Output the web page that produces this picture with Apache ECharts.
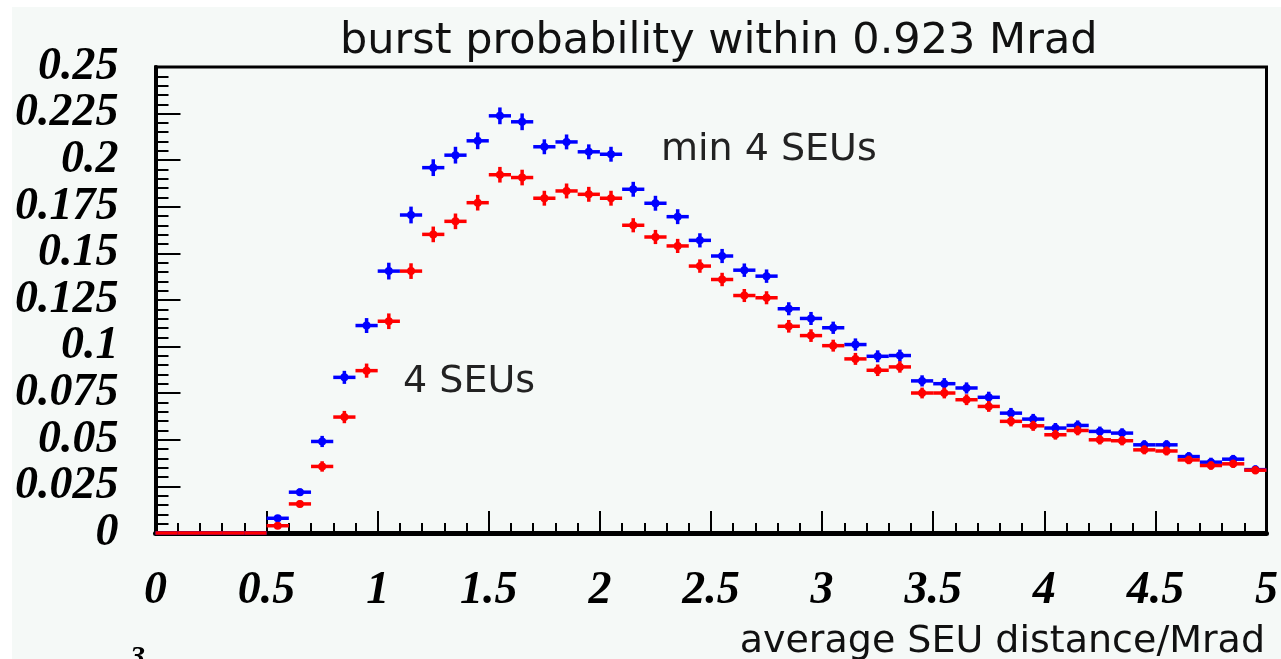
<!DOCTYPE html>
<html>
<head>
<meta charset="utf-8">
<script src="https://cdn.jsdelivr.net/npm/echarts@6/dist/echarts.min.js"></script>
<style>
html,body{margin:0;padding:0;background:#ffffff;}
#wrap{position:relative;width:1281px;height:659px;background:#ffffff;overflow:hidden;}
#chart{position:absolute;left:12px;top:7px;width:1269px;height:652px;}
</style>
</head>
<body>
<div id="wrap"><div id="chart"></div></div>
<script>
// ---- data ----
var binCenters = [0.05,0.15,0.25,0.35,0.45,0.55,0.65,0.75,0.85,0.95,
                  1.05,1.15,1.25,1.35,1.45,1.55,1.65,1.75,1.85,1.95,
                  2.05,2.15,2.25,2.35,2.45,2.55,2.65,2.75,2.85,2.95,
                  3.05,3.15,3.25,3.35,3.45,3.55,3.65,3.75,3.85,3.95,
                  4.05,4.15,4.25,4.35,4.45,4.55,4.65,4.75,4.85,4.95];
// "min 4 SEUs" (blue)
var minFourSEUs = [0,0,0,0,0,0.0079,0.0219,0.0491,0.0835,0.1113,
                   0.1405,0.1706,0.1960,0.2027,0.2104,0.2238,0.2206,0.2072,0.2098,0.2045,
                   0.2032,0.1844,0.1769,0.1697,0.1570,0.1486,0.1410,0.1378,0.1203,0.1151,
                   0.1101,0.1011,0.0948,0.0952,0.0816,0.0801,0.0778,0.0728,0.0643,0.0611,
                   0.0563,0.0577,0.0545,0.0536,0.0473,0.0473,0.0410,0.0380,0.0396,0.0340];
var minFourErr = [0,0,0,0,0,0.0012,0.0020,0.0030,0.0035,0.0040,
                  0.0045,0.0045,0.0045,0.0045,0.0045,0.0045,0.0045,0.0040,0.0040,0.0040,
                  0.0040,0.0040,0.0040,0.0040,0.0038,0.0038,0.0036,0.0036,0.0035,0.0035,
                  0.0033,0.0033,0.0032,0.0032,0.0030,0.0030,0.0030,0.0030,0.0028,0.0028,
                  0.0027,0.0027,0.0026,0.0026,0.0025,0.0025,0.0024,0.0024,0.0023,0.0023];
// "4 SEUs" (red)
var fourSEUs = [0,0,0,0,0,0.0039,0.0156,0.0357,0.0622,0.0871,
                0.1136,0.1405,0.1602,0.1672,0.1772,0.1922,0.1907,0.1796,0.1835,0.1817,
                0.1796,0.1651,0.1588,0.1540,0.1432,0.1360,0.1274,0.1262,0.1109,0.1059,
                0.1005,0.0934,0.0873,0.0891,0.0751,0.0751,0.0715,0.0679,0.0599,0.0575,
                0.0527,0.0550,0.0500,0.0495,0.0446,0.0440,0.0392,0.0362,0.0371,0.0337];
var fourErr = [0,0,0,0,0,0.0010,0.0018,0.0028,0.0033,0.0038,
               0.0042,0.0042,0.0042,0.0042,0.0042,0.0042,0.0042,0.0040,0.0040,0.0040,
               0.0040,0.0038,0.0038,0.0038,0.0036,0.0036,0.0035,0.0035,0.0034,0.0034,
               0.0032,0.0032,0.0031,0.0031,0.0029,0.0029,0.0029,0.0029,0.0027,0.0027,
               0.0026,0.0026,0.0025,0.0025,0.0024,0.0024,0.0023,0.0023,0.0022,0.0022];
var binWidth = 0.1;
var yTickLabels = ['0','0.025','0.05','0.075','0.1','0.125','0.15','0.175','0.2','0.225','0.25'];
var xTickLabels = ['0','0.5','1','1.5','2','2.5','3','3.5','4','4.5','5'];

function build(vals, errs){
  return binCenters.map(function(c,i){ return [c, vals[i], errs[i]]; });
}
function renderCross(color){
  return function(params, api){
    var x = api.value(0), y = api.value(1), e = api.value(2);
    var l = api.coord([x - binWidth/2, y]);
    var r = api.coord([x + binWidth/2, y]);
    var children = [{
      type:'line', shape:{x1:l[0], y1:l[1], x2:r[0], y2:r[1]},
      style:{stroke:color, lineWidth:3.5}
    }];
    if (y > 0) {
      var t = api.coord([x, y + e]);
      var b = api.coord([x, y - e]);
      var c = api.coord([x, y]);
      children.push({type:'line', shape:{x1:t[0], y1:t[1], x2:b[0], y2:b[1]}, style:{stroke:color, lineWidth:3.5}});
      children.push({type:'circle', shape:{cx:c[0], cy:c[1], r:4}, style:{fill:color}});
    }
    return {type:'group', children:children};
  };
}

var serifLabel = {fontFamily:'Liberation Serif', fontWeight:'bold', fontStyle:'italic', fontSize:46, color:'#000'};
var thinFont = 'DejaVu Sans';

var chart = echarts.init(document.getElementById('chart'));
chart.setOption({
  backgroundColor:'#f5f9f7',
  animation:false,
  title:[
    {text:'burst probability within 0.923 Mrad', left:323, top:8,
     textStyle:{fontFamily:thinFont, fontWeight:'normal', fontSize:43, color:'#111'}},
    {text:'average SEU distance/Mrad', right:11, top:611,
     textStyle:{fontFamily:thinFont, fontWeight:'normal', fontSize:38, color:'#111'}}
  ],
  grid:{left:141, top:60, right:11, bottom:126, show:true, borderColor:'#000', borderWidth:3, backgroundColor:'transparent'},
  xAxis:{
    type:'value', min:0, max:5, interval:0.5,
    axisLine:{lineStyle:{color:'#000', width:5}},
    axisTick:{inside:true, length:22, lineStyle:{color:'#000', width:2}},
    minorTick:{show:true, splitNumber:5, length:10, lineStyle:{color:'#000', width:2}},
    splitLine:{show:false},
    axisLabel:Object.assign({margin:35, formatter:function(v){return xTickLabels[Math.round(v/0.5)];}}, serifLabel)
  },
  yAxis:{
    type:'value', min:0, max:0.25, interval:0.025,
    axisLine:{lineStyle:{color:'#000', width:4}},
    axisTick:{inside:true, length:25, lineStyle:{color:'#000', width:2}},
    minorTick:{show:true, splitNumber:5, length:13, lineStyle:{color:'#000', width:2}},
    splitLine:{show:false},
    axisLabel:Object.assign({margin:37, formatter:function(v){return yTickLabels[Math.round(v/0.025)];}}, serifLabel)
  },
  series:[
    {type:'custom', name:'min 4 SEUs', renderItem:renderCross('#0000ff'), data:build(minFourSEUs, minFourErr), z:3},
    {type:'custom', name:'4 SEUs', renderItem:renderCross('#ff0000'), data:build(fourSEUs, fourErr), z:4}
  ],
  graphic:[
    {type:'text', left:649, top:124, style:{text:'min 4 SEUs', fontFamily:thinFont, fontSize:38, fill:'#222'}},
    {type:'text', left:391, top:356, style:{text:'4 SEUs', fontFamily:thinFont, fontSize:38, fill:'#222'}},
    {type:'text', left:118, top:636, style:{text:'3', fontFamily:'Liberation Serif', fontWeight:'bold', fontStyle:'italic', fontSize:30, fill:'#000'}}
  ]
});
</script>
</body>
</html>
